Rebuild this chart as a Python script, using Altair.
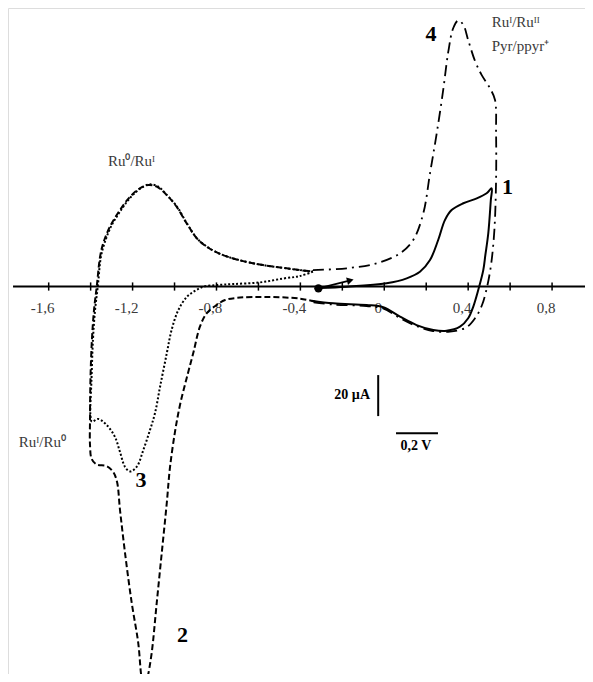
import altair as alt
import pandas as pd

# ---------------- data (potential V, current µA) ----------------
c1_v = [-0.307, -0.179, 0.011, 0.107, 0.170, 0.218, 0.257, 0.289, 0.321, 0.377, 0.441, 0.488, 0.512,
        0.508, 0.496, 0.482, 0.472, 0.448, 0.424, 0.400, 0.361, 0.297, 0.234, 0.154, 0.075, -0.005,
        -0.084, -0.243, -0.346]
c1_i = [-0.7, -0.1, 1.6, 4.0, 7.2, 12.9, 22.7, 32.4, 37.3, 40.6, 43.0, 45.5, 47.9,
        42.2, 26.1, 15.4, 8.0, -1.7, -9.9, -15.5, -19.6, -21.6, -21.2, -18.8, -14.7, -10.1,
        -9.0, -8.2, -6.9]

c2_v = [-0.330, -0.402, -0.561, -0.688, -0.759, -0.799, -0.847, -0.879, -0.911, -0.942, -0.974, -0.998,
        -1.022, -1.037, -1.061, -1.085, -1.109, -1.129, -1.143, -1.157, -1.173, -1.204, -1.236, -1.260,
        -1.274, -1.292, -1.323, -1.371, -1.395, -1.403, -1.403, -1.401, -1.394, -1.384, -1.371, -1.355,
        -1.340, -1.308, -1.260, -1.212, -1.165, -1.125, -1.085, -1.037, -0.990, -0.942, -0.894, -0.847,
        -0.783, -0.704, -0.593, -0.497, -0.402, -0.340]
c2_i = [-7.4, -5.9, -5.1, -5.4, -6.6, -9.0, -13.1, -19.6, -32.6, -44.6, -57.8, -71.0,
        -88.5, -105.6, -130.0, -154.4, -178.8, -191.0, -196.8, -191.0, -173.9, -154.4, -130.0, -109.0,
        -95.4, -90.5, -87.6, -86.8, -84.1, -77.3, -65.1, -45.6, -26.1, -11.5, -0.1, 14.5,
        21.1, 29.2, 37.3, 43.8, 47.9, 49.5, 48.7, 44.6, 38.9, 30.8, 23.5, 19.4,
        15.9, 13.2, 10.7, 9.3, 8.0, 7.3]

c3_v = [-0.340, -0.402, -0.482, -0.593, -0.720, -0.799, -0.855, -0.883, -0.912, -0.942, -0.982, -1.014,
        -1.037, -1.069, -1.093, -1.117, -1.149, -1.180, -1.212, -1.236, -1.260, -1.284, -1.323, -1.364,
        -1.394, -1.401, -1.396, -1.389, -1.379, -1.366, -1.351, -1.334, -1.303, -1.255, -1.207, -1.160,
        -1.120, -1.080, -1.036, -0.988, -0.941, -0.893, -0.845, -0.783, -0.704, -0.593, -0.497, -0.402,
        -0.340]
c3_i = [7.3, 5.1, 3.9, 2.0, 1.2, 0.7, 0.1, -1.0, -2.7, -5.1, -11.5, -21.2,
        -32.6, -48.9, -61.7, -70.0, -79.8, -87.9, -90.2, -88.0, -80.7, -73.4, -67.6, -64.6,
        -65.9, -62.7, -45.6, -26.1, -11.5, -0.1, 14.5, 21.1, 29.2, 37.3, 43.8, 48.0,
        49.8, 48.9, 44.6, 38.9, 30.8, 23.5, 19.4, 15.9, 13.2, 10.7, 9.3, 8.0,
        7.3]

c4_v = [-0.340, -0.179, -0.036, 0.075, 0.138, 0.186, 0.218, 0.250, 0.281, 0.305, 0.329, 0.353,
        0.377, 0.400, 0.432, 0.464, 0.504, 0.528, 0.533, 0.533, 0.525, 0.509, 0.490, 0.466,
        0.432, 0.390, 0.313, 0.232, 0.154, 0.075, -0.006, -0.084, -0.245, -0.345]
c4_i = [8.0, 8.9, 11.3, 16.2, 22.7, 35.7, 55.2, 74.7, 95.9, 114.4, 126.1, 129.8,
        127.6, 120.2, 110.2, 103.2, 96.7, 91.0, 74.9, 52.0, 27.6, 10.5, -0.2, -9.0,
        -15.6, -20.0, -22.0, -21.7, -19.3, -15.4, -10.7, -9.5, -8.8, -7.6]

tick_values = [-1.6, -1.4, -1.2, -1.0, -0.8, -0.6, -0.4, -0.2, 0.0, 0.2, 0.4, 0.6, 0.8]
label_values = [-1.6, -1.2, -0.8, -0.4, 0.0, 0.4, 0.8]
label_texts = ["-1,6", "-1,2", "-0,8", "-0,4", "0", "0,4", "0,8"]

# ---------------- layout ----------------
XMIN, XMAX = -1.794, 0.957
YMIN, YMAX = -189.0, 135.85
W, H = 577, 666

xs = alt.Scale(domain=[XMIN, XMAX], nice=False, zero=False)
ys = alt.Scale(domain=[YMIN, YMAX], nice=False, zero=False)


def X(f="v"):
    return alt.X(f"{f}:Q", scale=xs, axis=None)


def Y(f="i"):
    return alt.Y(f"{f}:Q", scale=ys, axis=None)


def curve(vs, is_, dash, width=1.9):
    df = pd.DataFrame({"v": vs, "i": is_, "k": list(range(len(vs)))})
    kw = dict(interpolate="catmull-rom", clip=True, color="black", strokeWidth=width)
    if dash:
        kw["strokeDash"] = dash
    return alt.Chart(df).mark_line(**kw).encode(x=X(), y=Y(), order=alt.Order("k:Q"))


# axis line, ticks, labels
axis_line = alt.Chart(pd.DataFrame({"v": [-1.77], "v2": [XMAX], "i": [0.0]})).mark_rule(
    color="black", strokeWidth=1.8).encode(x=X(), x2="v2:Q", y=Y())
ticks = alt.Chart(pd.DataFrame({"v": tick_values, "i": [2.0] * len(tick_values),
                                "i2": [-2.0] * len(tick_values)})).mark_rule(
    color="black", strokeWidth=1.5).encode(x=X(), y=Y(), y2="i2:Q")
tick_labels = alt.Chart(pd.DataFrame({"v": label_values, "t": label_texts,
                                      "i": [-10.5] * len(label_values)})).mark_text(
    font="Liberation Serif", fontSize=15, color="#3a3a3a", dx=-6, baseline="middle").encode(
    x=X(), y=Y(), text="t:N")

l1 = curve(c1_v, c1_i, None, 2.0)
l2 = curve(c2_v, c2_i, [6, 3], 2.0)
l3 = curve(c3_v, c3_i, [2, 2], 2.0)
l4 = curve(c4_v, c4_i, [11, 5, 2, 5], 1.8)

# start dot and arrow
dot = alt.Chart(pd.DataFrame({"v": [-0.314], "i": [-0.9]})).mark_point(
    filled=True, color="black", size=70, opacity=1).encode(x=X(), y=Y())
arrow = alt.Chart(pd.DataFrame({"v": [-0.314], "i": [-0.9], "v2": [-0.162], "i2": [3.0]})).mark_rule(
    color="black", strokeWidth=1.6).encode(x=X(), y=Y(), x2="v2:Q", y2="i2:Q")
arrow_head = alt.Chart(pd.DataFrame({"v": [-0.162], "i": [3.0]})).mark_point(
    shape="triangle-right", filled=True, color="black", size=60, angle=346, opacity=1).encode(x=X(), y=Y())

# scale bars
vbar = alt.Chart(pd.DataFrame({"v": [-0.029], "i": [-43.2], "i2": [-63.2]})).mark_rule(
    color="black", strokeWidth=2).encode(x=X(), y=Y(), y2="i2:Q")
hbar = alt.Chart(pd.DataFrame({"v": [0.056], "v2": [0.256], "i": [-71.6]})).mark_rule(
    color="black", strokeWidth=2).encode(x=X(), x2="v2:Q", y=Y())

# annotations
grey_labels = pd.DataFrame({
    "v": [-1.205, -1.630],
    "i": [61.2, -75.9],
    "t": ["Ru⁰/Ruᴵ", "Ruᴵ/Ru⁰"],
})
grey_text = alt.Chart(grey_labels).mark_text(
    font="Liberation Serif", fontSize=15, color="#3a3a3a", baseline="middle", align="center").encode(
    x=X(), y=Y(), text="t:N")
right_labels = pd.DataFrame({
    "v": [0.512, 0.512],
    "i": [129.2, 117.3],
    "t": ["Ruᴵ/Ruᴵᴵ", "Pyr/ppyr⁺"],
})
right_text = alt.Chart(right_labels).mark_text(
    font="Liberation Serif", fontSize=15, color="#3a3a3a", baseline="middle", align="left").encode(
    x=X(), y=Y(), text="t:N")
num_labels = pd.DataFrame({
    "v": [0.587, -0.962, -1.160, 0.223],
    "i": [48.7, -170.0, -94.4, 123.2],
    "t": ["1", "2", "3", "4"],
})
num_text = alt.Chart(num_labels).mark_text(
    font="Liberation Serif", fontSize=22, fontWeight="bold", color="black", baseline="middle",
    align="center").encode(x=X(), y=Y(), text="t:N")
bar_labels = pd.DataFrame({
    "v": [-0.068, 0.151],
    "i": [-52.9, -78.0],
    "t": ["20 µA", "0,2 V"],
})
bar_text_a = alt.Chart(bar_labels.iloc[[0]]).mark_text(
    font="Liberation Serif", fontSize=14, fontWeight="bold", color="black", baseline="middle",
    align="right").encode(x=X(), y=Y(), text="t:N")
bar_text_b = alt.Chart(bar_labels.iloc[[1]]).mark_text(
    font="Liberation Serif", fontSize=14, fontWeight="bold", color="black", baseline="middle",
    align="center").encode(x=X(), y=Y(), text="t:N")

chart = alt.layer(
    axis_line, ticks, tick_labels, l3, l2, l4, l1, arrow, arrow_head, dot, vbar, hbar,
    grey_text, right_text, num_text, bar_text_a, bar_text_b
).properties(
    width=W, height=H, padding=0,
    autosize=alt.AutoSizeParams(type="none"),
).configure_view(stroke=None).configure(background="white")

chart.save("out.html", embed_options={"renderer": "svg", "actions": False})
